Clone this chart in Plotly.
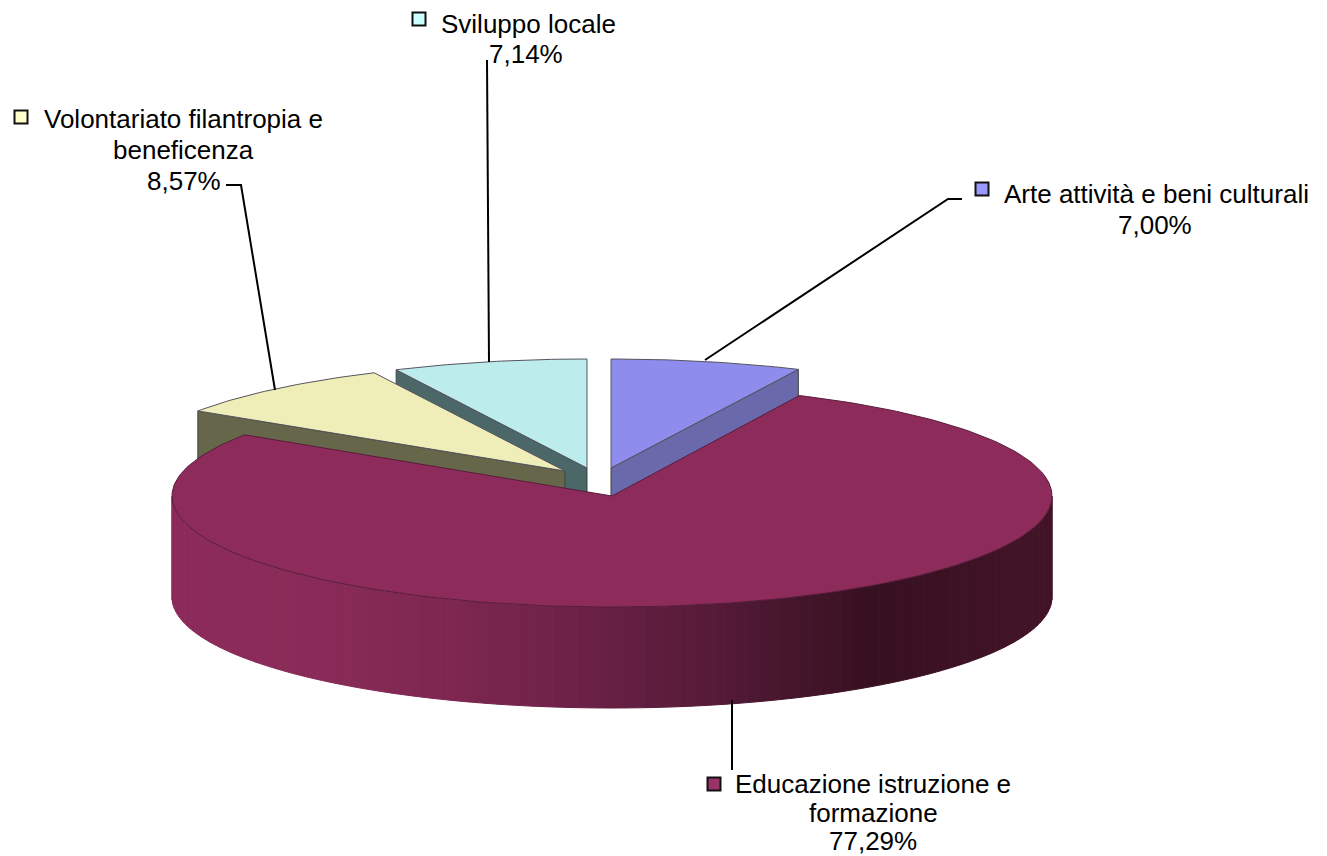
import numpy as np
import plotly.graph_objects as go

# Data, in the chart's order (clockwise from 12 o'clock)
categories = ["Arte attività e beni culturali", "Educazione istruzione e formazione",
              "Volontariato filantropia e beneficenza", "Sviluppo locale"]
values = [7.00, 77.29, 8.57, 7.14]
label_lines = [["Arte attività e beni culturali"],
               ["Educazione istruzione e", "formazione"],
               ["Volontariato filantropia e", "beneficenza"],
               ["Sviluppo locale"]]

# Styles
key_colors = ["#9999FF", "#993366", "#FFFFCC", "#CCFFFF"]
top_colors = ["#8E8CEC", "#8D2C5B", "#EFEEB9", "#BCEDEC"]
wall_colors = ["#6A69AB", "#8D2C5B", "#66664A", "#4C6767"]

# Geometry of the 3D projection (pixels)
RX, DEPTH = 440, 101
radii_y = [109, 111, 109, 109]
centers = [(611, 468), (612, 496), (565, 471), (587, 468)]
key_pos = [(982, 189), (714, 784), (21, 117), (419, 19)]
text_pos = [[(1156, 194), (1155, 225)],
            [(873, 784), (873, 813), (873, 841)],
            [(183, 119), (183, 150), (184, 181)],
            [(528, 24), (526, 54)]]
leaders = [([705, 948, 962], [360, 199, 199]),
           ([732, 732], [700, 770]),
           ([275, 241, 226], [390, 185, 185]),
           ([489, 487], [362, 60])]
# wall shading: (x pixel, colour)
grad_x = [172, 330, 520, 700, 870, 1052]
grad_rgb = [(141, 44, 91), (137, 43, 88), (118, 37, 77), (88, 28, 58), (56, 17, 33), (68, 21, 40)]

fractions = np.array(values) / sum(values)
ends = np.cumsum(fractions) * 360
starts = ends - fractions * 360


def ell(cx, cy, ry, deg):
    t = np.radians(deg)
    return cx + RX * np.sin(t), cy - ry * np.cos(t)


fig = go.Figure()


def poly(x, y, fill, line=None, width=1):
    fig.add_trace(go.Scatter(x=list(x), y=list(y), mode="lines", fill="toself", fillcolor=fill,
                             line=dict(color=line or fill, width=width), hoverinfo="skip",
                             showlegend=False))


# exploded slices, drawn back to front: cut face then top
for i in [3, 2, 0]:
    cx, cy = centers[i]
    ry = radii_y[i]
    edge = ends[i] if i == 0 else starts[i]
    ex, ey = ell(cx, cy, ry, edge)
    poly([cx, ex, ex, cx, cx], [cy, ey, ey + DEPTH, cy + DEPTH, cy], wall_colors[i], "#3c4040", 1)
    a = np.linspace(starts[i], ends[i], 40)
    px, py = ell(cx, cy, ry, a)
    poly(np.r_[cx, px, cx], np.r_[cy, py, cy], top_colors[i], "#55555f", 1)

# main slice: curved front wall as shaded strips, then top
cx, cy = centers[1]
ry = radii_y[1]
a = np.linspace(90, 270, 121)
for a0, a1 in zip(a[:-1], a[1:]):
    x0, y0 = ell(cx, cy, ry, a0)
    x1, y1 = ell(cx, cy, ry, a1)
    xm = (x0 + x1) / 2
    rgb = [np.interp(xm, grad_x, [c[k] for c in grad_rgb]) for k in range(3)]
    col = "rgb(%d,%d,%d)" % tuple(rgb)
    poly([x0, x1, x1, x0, x0], [y0, y1, y1 + DEPTH, y0 + DEPTH, y0], col)
a = np.linspace(starts[1], ends[1], 240)
px, py = ell(cx, cy, ry, a)
poly(np.r_[cx, px, cx], np.r_[cy, py, cy], top_colors[1], "#5a1c3c", 1)

# leader lines
for lx, ly in leaders:
    fig.add_trace(go.Scatter(x=lx, y=ly, mode="lines", line=dict(color="#000000", width=2),
                             hoverinfo="skip", showlegend=False))

# legend keys
fig.add_trace(go.Scatter(x=[p[0] for p in key_pos], y=[p[1] for p in key_pos], mode="markers",
                         marker=dict(symbol="square", size=13, color=key_colors,
                                     line=dict(color="#111111", width=2)),
                         hoverinfo="skip", showlegend=False))

# labels
for i, v in enumerate(values):
    lines = label_lines[i] + [f"{v:.2f}".replace(".", ",") + "%"]
    for s, (tx, ty) in zip(lines, text_pos[i]):
        fig.add_annotation(x=tx, y=ty, text=s, showarrow=False, xanchor="center", yanchor="middle",
                           font=dict(family="Liberation Sans, Arial, sans-serif", size=26, color="#000000"))

fig.update_layout(width=1327, height=856, margin=dict(l=0, r=0, t=0, b=0),
                  paper_bgcolor="#FFFFFF", plot_bgcolor="#FFFFFF", showlegend=False,
                  xaxis=dict(range=[0, 1327], visible=False, fixedrange=True),
                  yaxis=dict(range=[856, 0], visible=False, fixedrange=True))
fig.write_html("out.html", config={"displayModeBar": False},
               post_script="document.body.style.margin='0';document.body.style.overflow='hidden';")
